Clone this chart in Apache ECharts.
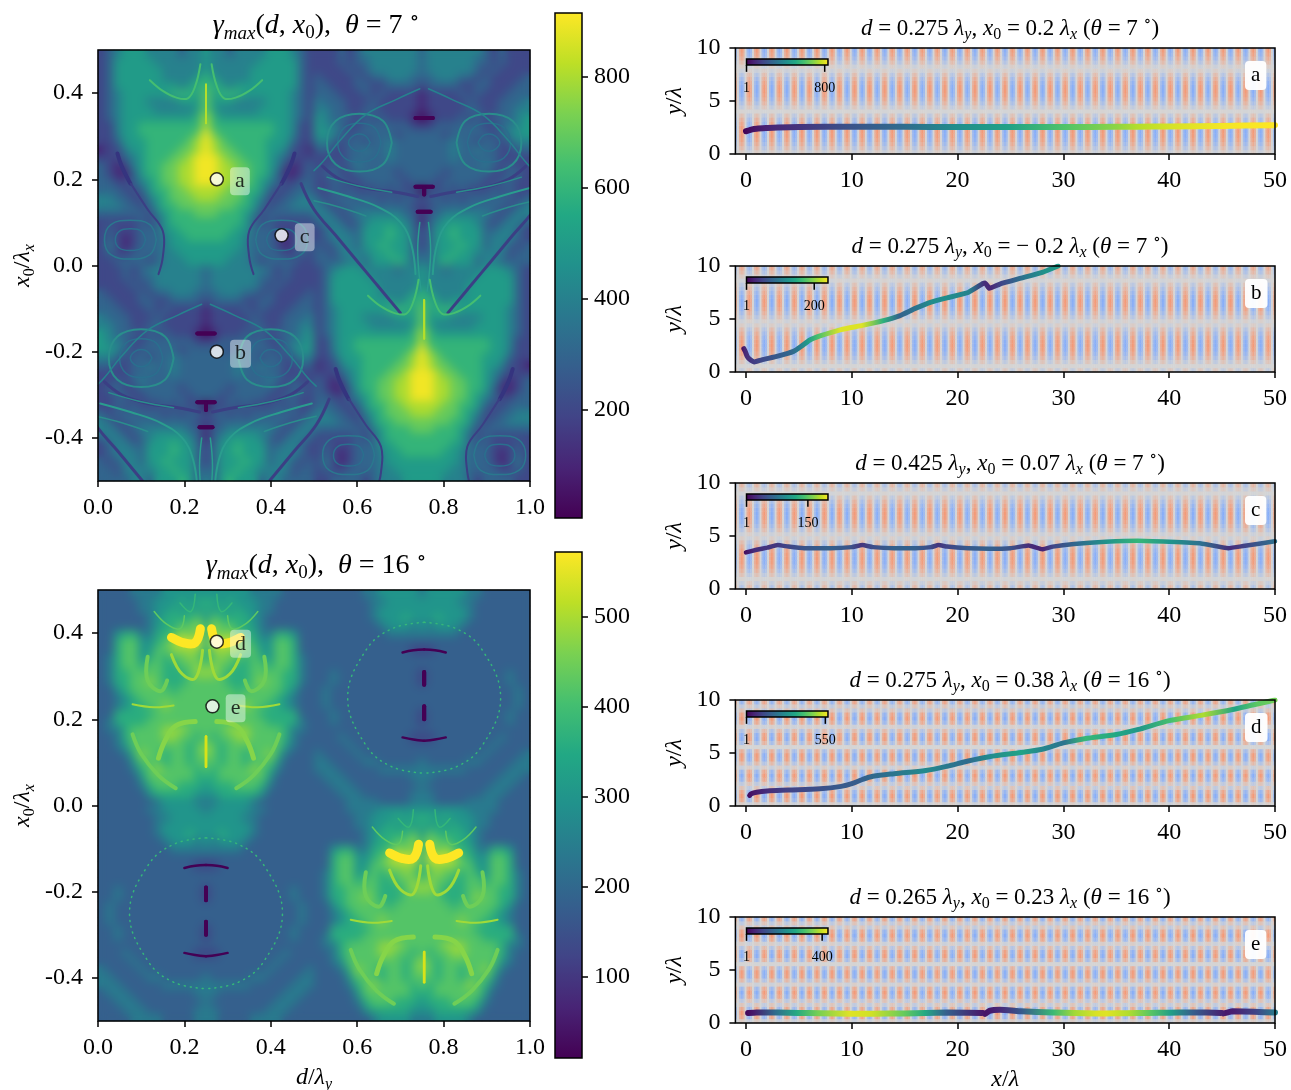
<!DOCTYPE html>
<html><head><meta charset="utf-8"><style>html,body{margin:0;padding:0;background:#fff}#c{width:1291px;height:1090px}</style>
<script src="https://cdn.jsdelivr.net/npm/echarts@6/dist/echarts.min.js"></script></head><body><div id="c"></div>
<script>
const viridis=['#440154','#482475','#414487','#355f8d','#2a788e','#21918c','#22a884','#44bf70','#7ad151','#bddf26','#fde725'];
const fieldColors=['#88aef8','#d5d5d5','#f39a78'];
const map7Lobe=["23455544443445","23555554444445","23555555444445","23555555444456","23555555554566","23455555566657","23455544445557","23455554444457","23455555555568","22455666666668","22455666666679","22355566666789","12245566667789","22234566677899","32124566778899","32113566778899","33223456778899","33322356677888","44332245677788","44433235667777","33333324566677","22222323566666","23222333556666","23212333455666","24212333455555","23223333445555","22333323444555"];
const map7Web=["22232344444443","22232334444443","22223234444443","32222323344433","33222332233332","33322232322221","43332223222221","44332233222221","54333232322210","54432233333322","55432333332333","44323323343333","33223343343333","22223333343333","22323433333333","23322333332333","22332233333233","22323222323220","32333333232332","43233333333322","44323444444331","34432345555431","23443355565532","23444355565532","32344355655532","33244445565533","33334435556534"];
const map16Lobe=["33334444555555","33333445556566","33333445565656","33333345666675","33333345667786","33566446678786","33677556789996","33677557788886","34677567677876","34677677667787","34667777666788","34667787666777","33567777767777","33456777777777","33456677877777","33666667777777","34666677777777","34467777888777","33467777887767","33457777777678","33346877677678","33335777677677","33334678777767","33333577777766","33333467776665","33333356666655","33333334555544"];
const map16Web=["33333344555554","33333334455555","33333334555555","33333334555655","33333333455545","33333333344444","33333333333333","33333333333322","33333333333333","33333333333333","33433333333332","33433333333332","34333333333333","34333333333333","34333333333333","33433333333332","33433333333332","33333333333333","33343333333322","33334333333333","43333433333333","44333344333334","44433333444444","34443333333344","33444333333334","33344433333344","33334444333344"];
const levelStep7=100, levelStep16=60;
const range7=[5,915], range16=[10,572];
const ticks7=[200,400,600,800], ticks16=[100,200,300,400,500];
const dTicks=[0,.2,.4,.6,.8,1], x0Ticks=[-.4,-.2,0,.2,.4];
// thin filaments seen in the maps: [colour, width, points, dash]
const fil7Lobe=[['#45be71',2,[[.12,.43],[.15,.405],[.18,.39],[.208,.388],[.225,.416],[.237,.467]]],['#b5de2b',2,[[.25,.42],[.25,.33]]],['#35347f',4,[[.045,.26],[.055,.23],[.075,.19]]],['#3b3f84',2,[[.076,.19],[.115,.13],[.15,.08],[.15,.02],[.14,-.02]]],['#2a788e',1.5,[[.135,.06],[.12,.095],[.075,.105],[.03,.095],[.015,.06],[.03,.025],[.075,.015],[.12,.025],[.135,.06]]],['#2a6f8e',1.5,[[.11,.06],[.1,.08],[.075,.085],[.05,.08],[.04,.06],[.05,.04],[.075,.035],[.1,.04],[.11,.06]]]];
const fil7Web=[['#2a8e8c',2,[[.68,.285],[.66,.335],[.605,.352],[.55,.335],[.53,.285],[.55,.235],[.605,.218],[.66,.235],[.68,.285]]],['#2a6f8e',1.5,[[.655,.285],[.64,.32],[.605,.33],[.57,.32],[.555,.285],[.57,.25],[.605,.24],[.64,.25],[.655,.285]]],['#2a6f8e',1.5,[[.63,.285],[.62,.3],[.605,.305],[.59,.3],[.58,.285],[.59,.27],[.605,.265],[.62,.27],[.63,.285]]],['#26828e',1.5,[[.745,.41],[.69,.385],[.62,.35],[.56,.29],[.52,.24],[.5,.22]]],['#3b3f84',3,[[.52,.23],[.56,.2],[.62,.18],[.69,.17],[.74,.16]]],['#2a8e8c',1.5,[[.53,.205],[.6,.185],[.68,.17]]],['#2a9d8e',2,[[.51,.18],[.58,.16],[.65,.135],[.70,.1],[.725,.05],[.735,-.02]]],['#2a8e8c',1.5,[[.5,.15],[.56,.135],[.62,.115]]],['#2a9d8e',1.5,[[.745,.1],[.74,.03],[.748,-.06]]],['#3b3f84',3,[[.47,.19],[.5,.13],[.55,.07],[.6,.01],[.65,-.05],[.7,-.11]]],['#440154',4,[[.735,.342],[.775,.342]]],['#440154',4,[[.735,.183],[.775,.183]]],['#440154',4,[[.755,.18],[.755,.165]]],['#440154',4,[[.74,.125],[.77,.125]]]];
const fil16Lobe=[['#fde725',9,[[.17,.39],[.2,.377],[.225,.378],[.237,.41]]],['#5ec962',1.5,[[.13,.45],[.16,.42],[.19,.41],[.2,.44]]],['#35b779',1.5,[[.19,.47],[.215,.45],[.225,.49]]],['#a0da39',3,[[.17,.35],[.195,.305],[.225,.295],[.242,.36]]],['#6ece58',4,[[.115,.345],[.115,.29],[.145,.265],[.16,.29]]],['#a0da39',2,[[.08,.235],[.13,.228],[.175,.232]]],['#86d549',5,[[.225,.195],[.18,.185],[.155,.15],[.14,.11]]],['#6ece58',4,[[.08,.165],[.1,.12],[.14,.07],[.18,.04]]],['#d8e219',2.5,[[.25,.16],[.25,.09]]]];
const fil16Web=[['#440154',2.5,[[.705,.355],[.73,.36],[.755,.362]]],['#440154',2.5,[[.705,.158],[.73,.153],[.755,.15]]],['#440154',4,[[.755,.31],[.755,.28]]],['#440154',4,[[.755,.23],[.755,.2]]],['#35b779',1.5,[[.755,.425],[.68,.41],[.62,.36],[.578,.25],[.62,.14],[.68,.09],[.755,.075]],[1,5]]];
// marked points on the maps
const points7=[[.275,.2,'a'],[.275,-.2,'b'],[.425,.07,'c']];
const points16=[[.275,.38,'d'],[.265,.23,'e']];
// right-hand panels
const xTicks=[0,10,20,30,40,50];
const stripeProfile=[1,.7,0,-.7,-1,-.7,0,.7];
const bandA=[.18,.46,.7,.87,.97,1,.95,.82,.62,.35,.03,-.27,-.55,-.77,-.92,-1,-.98,-.87,-.68,-.43,-.15,.15,.43,.68,.87,.98];
const bandB=[-.27,.02,.31,.58,.79,.94,1,.97,.85,.68,.45,.17,-.12,-.4,-.65,-.85,-.97,-1,-.92,-.76,-.57,-.35,-.08,.22,.5,.74];
const bandC=[-.52,-.24,.05,.34,.6,.8,.94,1,.97,.85,.67,.43,.15,-.15,-.43,-.67,-.85,-.97,-1,-.94,-.8,-.6,-.34,-.05,.24,.52];
const bandD=[.15,.77,1,.8,.33,-.33,-.8,-1,-.75,-.17,.47,.9,.97,.65,0,-.6,-.97,-.9,-.5,.13,.72,1,.85,.35,-.3,-.8];
const bandE=[.2,.8,1,.77,.3,-.36,-.82,-1,-.72,-.14,.5,.92,.96,.62,-.03,-.63,-.98,-.88,-.47,.16,.75,1,.83,.32,-.33,-.82];
const xA=[0,.2,.5,1,2,3,5,10,15,20,25,30,35,37,40,45,50];
const yA=[2.15,2.2,2.3,2.38,2.45,2.5,2.55,2.58,2.57,2.55,2.55,2.55,2.57,2.58,2.6,2.65,2.72];
const gA=[1,10,25,45,75,95,120,210,290,400,470,590,680,730,770,810,820];
const xB=[-.2,-.05,.1,.3,.8,1.5,3,4.5,5.2,6,7,9,11,13,14.5,16,17.5,19,21,22.4,22.6,23,24,26,28,29.5];
const yB=[2.2,1.9,1.5,1.25,.95,1.15,1.5,1.95,2.4,3,3.4,4,4.4,4.85,5.3,6,6.6,7,7.5,8.35,8.4,7.9,8.3,8.85,9.4,10];
const gB=[5,15,25,30,40,50,65,80,100,130,170,225,225,150,75,90,115,115,105,30,28,25,50,90,120,130];
const xC=[0,1,2,3,4,5.5,8,10,11,12,14,16,17.5,18.2,19,21,23,25,26.7,28,29,31,34,37,40,43,45.6,47,50];
const yC=[3.45,3.7,3.9,4.15,4,3.85,3.85,3.95,4.15,3.95,3.85,3.85,3.95,4.15,4,3.85,3.8,3.85,4.1,3.75,4,4.25,4.45,4.55,4.45,4.3,3.85,4.05,4.5];
const gC=[5,25,30,30,40,50,60,50,30,45,60,60,45,30,40,55,60,50,25,20,40,65,100,130,100,70,25,40,75];
const xD=[.35,.5,1,2,4,7,9,10,11,12,14,17,19,21,23,26,28,30,32,35,37,40,43,46,48,50];
const yD=[1,1.15,1.3,1.42,1.5,1.62,1.85,2.1,2.5,2.8,3.05,3.35,3.75,4.25,4.65,5.05,5.35,5.95,6.35,6.75,7.2,8.05,8.55,9.1,9.55,10];
const gD=[5,20,40,70,110,140,160,165,170,190,220,270,230,200,270,330,260,220,380,340,300,400,500,330,420,450];
const xE=[.2,1,3,5,7,10,12,15,17,19,22.4,22.6,23,24,26,29,31,33,34,36,38,40,42,45,45.1,46,48,50];
const yE=[.95,1,1,.95,.92,.88,.88,.9,.95,1,.95,.85,1.15,1.25,1.1,.98,.95,.9,.9,.92,.95,.97,1,.95,.9,1.1,1.05,1];
const gE=[5,30,150,260,340,410,400,330,260,130,30,25,30,50,120,290,370,405,410,380,320,240,130,35,30,40,90,190];
const panelTicks=[800,200,150,550,400], panelMax=[820,237,197,570,430], insetTick=[7.44,6.45,5.85,7.5,7.2];
const letters=['a','b','c','d','e'];
const bands=[bandA,bandB,bandC,bandD,bandE];
const tracks=[[xA,yA,gA],[xB,yB,gB],[xC,yC,gC],[xD,yD,gD],[xE,yE,gE]];
const trackWidth=[6,5,4.5,5,6], trackSmooth=[.3,.12,.12,.3,.12];

const FF="'Liberation Serif','DejaVu Serif',serif";
function hex(c){return [1,3,5].map(i=>parseInt(c.substr(i,2),16));}
function cmap(t){t=Math.max(0,Math.min(1,t))*(viridis.length-1);const i=Math.min(Math.floor(t),viridis.length-2),f=t-i,a=hex(viridis[i]),b=hex(viridis[i+1]);return a.map((v,k)=>Math.round(v+(b[k]-v)*f));}
function css(t){return 'rgb('+cmap(t).join(',')+')';}
const vstops=viridis.map((c,i)=>({offset:i/(viridis.length-1),color:c}));
function full(half){return half+half.slice(0,13).split('').reverse().join('');}
function assemble(lobe,web){const r=[];for(let i=0;i<27;i++)r.push(full(lobe[i])+full(web[i]));for(let i=0;i<27;i++)r.push(full(web[i])+full(lobe[i]));return r;}
function rich(s){const fw='normal';return {
 i:{fontFamily:FF,fontStyle:'italic',fontWeight:fw,fontSize:s,lineHeight:s+6,color:'#000'},
 r:{fontFamily:FF,fontWeight:fw,fontSize:s,lineHeight:s+6,color:'#000'},
 s:{fontFamily:FF,fontStyle:'italic',fontWeight:fw,fontSize:Math.round(s*.68),lineHeight:Math.round(s*.68),verticalAlign:'bottom',color:'#000'},
 n:{fontFamily:FF,fontWeight:fw,fontSize:Math.round(s*.68),lineHeight:Math.round(s*.68),verticalAlign:'bottom',color:'#000'},
 u:{fontFamily:FF,fontWeight:fw,fontSize:Math.round(s*.7),lineHeight:Math.round(s*.7),verticalAlign:'top',color:'#000'}};}

const grid=[],xAxis=[],yAxis=[],series=[],visualMap=[],graphic=[],title=[];
const labelX={fontFamily:FF,fontSize:24,color:'#000',margin:15};
const labelY={fontFamily:FF,fontSize:24,color:'#000',margin:15};
const labelBar={fontFamily:FF,fontSize:24,color:'#000',margin:12};
const tick={show:true,length:6,lineStyle:{color:'#000',width:1.5}};
const noLine={show:false,onZero:false};
function addGrid(l,t,w,h){grid.push({left:l,top:t,width:w,height:h,containLabel:false,outerBoundsMode:'none'});
 graphic.push({type:'rect',silent:true,z:100,shape:{x:l,y:t,width:w,height:h},style:{fill:'none',stroke:'#000',lineWidth:1.5}});return grid.length-1;}
function valX(g,opt){xAxis.push(Object.assign({type:'value',gridIndex:g,z:10,position:'bottom',splitLine:{show:false},axisLine:noLine},opt));return xAxis.length-1;}
function valY(g,opt){yAxis.push(Object.assign({type:'value',gridIndex:g,z:10,splitLine:{show:false},axisLine:noLine},opt));return yAxis.length-1;}
function catX(g,n){xAxis.push({type:'category',gridIndex:g,show:false,data:Array.from({length:n},(_,i)=>i)});return xAxis.length-1;}
function catY(g,n){yAxis.push({type:'category',gridIndex:g,show:false,data:Array.from({length:n},(_,i)=>i)});return yAxis.length-1;}
function colorbar(l,t,h,range,ticks){
 const g=addGrid(l,t,27,h);
 const xi=valX(g,{min:0,max:1,axisTick:{show:false},axisLabel:{show:false}});
 const yi=valY(g,{position:'right',min:range[0],max:range[1],axisTick:Object.assign({},tick,{customValues:ticks}),axisLabel:Object.assign({},labelBar,{customValues:ticks})});
 series.push({type:'custom',coordinateSystem:'cartesian2d',xAxisIndex:xi,yAxisIndex:yi,silent:true,data:[[0,range[0]]],
  renderItem(p,api){const a=api.coord([0,range[1]]),b=api.coord([1,range[0]]);
   return {type:'rect',shape:{x:a[0],y:a[1],width:b[0]-a[0],height:b[1]-a[1]},style:{fill:{type:'linear',x:0,y:1,x2:0,y2:0,colorStops:vstops}}};}});
}
function mirrorFil(set,c){const out=[];set.forEach(f=>{out.push(f);out.push([f[0],f[1],f[2].map(p=>[2*c-p[0],p[1]]),f[3]]);});return out;}
function heatMap(top,rows,step,range,lobeFil,webFil,pts,axisNames){
 const g=addGrid(98,top,432,431);
 const xi=valX(g,Object.assign({min:0,max:1,axisTick:Object.assign({},tick,{customValues:dTicks}),axisLabel:Object.assign({},labelX,{customValues:dTicks,formatter:v=>v.toFixed(1)})},axisNames.x||{}));
 const yi=valY(g,Object.assign({min:-.5,max:.5,axisTick:Object.assign({},tick,{customValues:x0Ticks}),axisLabel:Object.assign({},labelY,{customValues:x0Ticks,formatter:v=>v.toFixed(1)})},axisNames.y));
 const cx=catX(g,rows[0].length),cy=catY(g,rows.length);
 const cells=[];
 rows.forEach((r,ri)=>{for(let c=0;c<r.length;c++)cells.push([c,rows.length-1-ri,Math.max(range[0],(+r[c])*step)]);});
 visualMap.push({show:false,type:'continuous',seriesIndex:series.length,min:range[0],max:range[1],dimension:2,inRange:{color:viridis}});
 series.push({type:'heatmap',xAxisIndex:cx,yAxisIndex:cy,data:cells,progressive:0,silent:true,z:1});
 // same cells, as a softly resampled raster like the imshow in the reference
 const cv=document.createElement('canvas');cv.width=rows[0].length;cv.height=rows.length;
 const ctx=cv.getContext('2d');const im=ctx.createImageData(cv.width,cv.height);
 cells.forEach(cl=>{const k=((rows.length-1-cl[1])*cv.width+cl[0])*4,col=cmap((cl[2]-range[0])/(range[1]-range[0]));im.data[k]=col[0];im.data[k+1]=col[1];im.data[k+2]=col[2];im.data[k+3]=255;});
 ctx.putImageData(im,0,0);
 const big=document.createElement('canvas');big.width=432;big.height=432;
 const bc=big.getContext('2d');bc.imageSmoothingEnabled=true;bc.drawImage(cv,0,0,432,432);bc.filter='blur(4px)';bc.drawImage(cv,0,0,432,432);
 series.push({type:'custom',coordinateSystem:'cartesian2d',xAxisIndex:xi,yAxisIndex:yi,silent:true,z:2,clip:true,data:[[0,0]],
  renderItem(p,api){const a=api.coord([0,.5]),b=api.coord([1,-.5]);return {type:'image',style:{image:big,x:a[0],y:a[1],width:b[0]-a[0],height:b[1]-a[1]}};}});
 // filaments
 const lobeAll=mirrorFil(lobeFil,.25),webAll=mirrorFil(webFil,.755);
 const shiftL=lobeAll.map(f=>[f[0],f[1],f[2].map(p=>[p[0]+.505,p[1]-.5]),f[3]]);
 const shiftW=webAll.map(f=>[f[0],f[1],f[2].map(p=>[p[0]-.505,p[1]-.5]),f[3]]);
 const fils=lobeAll.concat(webAll,shiftL,shiftW);
 series.push({type:'custom',coordinateSystem:'cartesian2d',xAxisIndex:xi,yAxisIndex:yi,silent:true,z:3,clip:true,data:fils.map((f,i)=>[f[2][0][0],f[2][0][1],i]),
  renderItem(p,api){const f=fils[p.dataIndex];return {type:'polyline',shape:{points:f[2].map(q=>api.coord(q)),smooth:.4},style:{stroke:f[0],lineWidth:f[1],fill:null,lineCap:'round',lineDash:f[3]||null}};}});
 series.push({type:'scatter',xAxisIndex:xi,yAxisIndex:yi,z:5,symbolSize:13,silent:true,itemStyle:{color:'#fff',borderColor:'#000',borderWidth:1.5},data:pts.map(q=>[q[0],q[1],q[2]]),
  label:{show:true,position:'right',distance:6,offset:[0,2],formatter:q=>q.data[2],fontFamily:FF,fontSize:22,color:'#000',backgroundColor:'rgba(255,255,255,.55)',padding:[3,5],borderRadius:4,lineHeight:22}});
}
const sub=rich(24);
const yName7={name:'{i|x}{n|0}{r|/}{i|λ}{s|x}',nameLocation:'middle',nameGap:60,nameTextStyle:{rich:sub}};
heatMap(50,assemble(map7Lobe,map7Web),levelStep7,range7,fil7Lobe,fil7Web,points7,{y:yName7});
colorbar(555,13,505,range7,ticks7);
heatMap(590,assemble(map16Lobe,map16Web),levelStep16,range16,fil16Lobe,fil16Web,points16,{y:yName7,x:{name:'{i|d}{r|/}{i|λ}{s|y}',nameLocation:'middle',nameGap:42,nameTextStyle:{rich:sub}}});
colorbar(555,552,506,range16,ticks16);

const panelTop=[48,266,483,700,917];
const lbl=rich(28),lbr=rich(23);
title.push({text:'{i|γ}{s|max}{r|(}{i|d}{r|, }{i|x}{n|0}{r|),  }{i|θ}{r| = 7 }{u|∘}',left:311,top:4,textAlign:'center',textStyle:{rich:lbl}});
title.push({text:'{i|γ}{s|max}{r|(}{i|d}{r|, }{i|x}{n|0}{r|),  }{i|θ}{r| = 16 }{u|∘}',left:311,top:544,textAlign:'center',textStyle:{rich:lbl}});
const panelTitles=[
 '{i|d}{r| = 0.275 }{i|λ}{s|y}{r|, }{i|x}{n|0}{r| = 0.2 }{i|λ}{s|x}{r| (}{i|θ}{r| = 7 }{u|∘}{r|)}',
 '{i|d}{r| = 0.275 }{i|λ}{s|y}{r|, }{i|x}{n|0}{r| = − 0.2 }{i|λ}{s|x}{r| (}{i|θ}{r| = 7 }{u|∘}{r|)}',
 '{i|d}{r| = 0.425 }{i|λ}{s|y}{r|, }{i|x}{n|0}{r| = 0.07 }{i|λ}{s|x}{r| (}{i|θ}{r| = 7 }{u|∘}{r|)}',
 '{i|d}{r| = 0.275 }{i|λ}{s|y}{r|, }{i|x}{n|0}{r| = 0.38 }{i|λ}{s|x}{r| (}{i|θ}{r| = 16 }{u|∘}{r|)}',
 '{i|d}{r| = 0.265 }{i|λ}{s|y}{r|, }{i|x}{n|0}{r| = 0.23 }{i|λ}{s|x}{r| (}{i|θ}{r| = 16 }{u|∘}{r|)}'];
panelTop.forEach((t,i)=>{
 const g=addGrid(735.4,t,539.6,106);
 const xOpt={min:-1,max:50,axisTick:Object.assign({},tick,{customValues:xTicks}),axisLabel:Object.assign({},labelX,{customValues:xTicks})};
 if(i===4)Object.assign(xOpt,{name:'{i|x}{r|/}{i|λ}',nameLocation:'middle',nameGap:42,nameTextStyle:{rich:sub}});
 const xi=valX(g,xOpt);
 const yi=valY(g,{min:0,max:10,interval:5,axisTick:tick,axisLabel:labelY,name:'{i|y}{r|/}{i|λ}',nameLocation:'middle',nameGap:46,nameTextStyle:{rich:sub}});
 const nc=287,nr=bands[i].length,cx=catX(g,nc),cy=catY(g,nr),cells=[];
 for(let r=0;r<nr;r++)for(let c=0;c<nc;c++)cells.push([c,r,stripeProfile[(c+5)%8]*bands[i][r]]);
 visualMap.push({show:false,type:'continuous',seriesIndex:series.length,min:-1,max:1,dimension:2,inRange:{color:fieldColors}});
 series.push({type:'heatmap',xAxisIndex:cx,yAxisIndex:cy,data:cells,progressive:0,silent:true,z:1});
 const tr=tracks[i],x0=Math.min(...tr[0]),x1=Math.max(...tr[0]),M=panelMax[i];
 const stops=tr[0].map((x,k)=>({x,color:css(tr[2][k]/M)})).sort((a,b)=>a.x-b.x).map(o=>({offset:(o.x-x0)/(x1-x0),color:o.color}));
 series.push({type:'line',xAxisIndex:xi,yAxisIndex:yi,z:4,showSymbol:false,silent:true,smooth:trackSmooth[i],data:tr[0].map((x,k)=>[x,tr[1][k]]),
  lineStyle:{width:trackWidth[i],cap:'round',join:'round',color:{type:'linear',x:0,y:0,x2:1,y2:0,colorStops:stops}}});
 const tv=panelTicks[i],tx=insetTick[i];
 series.push({type:'custom',coordinateSystem:'cartesian2d',xAxisIndex:xi,yAxisIndex:yi,silent:true,z:5,data:[[0,8.96]],
  renderItem(p,api){const a=api.coord([.05,8.96]),b=api.coord([7.75,8.4]),t0=api.coord([.05,7.75]),t1=api.coord([tx,7.75]),l0=api.coord([.05,6.2]),l1=api.coord([tx,6.2]);
   const w=b[0]-a[0],h=b[1]-a[1];
   return {type:'group',children:[
    {type:'rect',shape:{x:a[0],y:a[1],width:w,height:h},style:{fill:{type:'linear',x:0,y:0,x2:1,y2:0,colorStops:vstops},stroke:'#000',lineWidth:1.5}},
    {type:'line',shape:{x1:a[0],y1:b[1],x2:t0[0],y2:t0[1]},style:{stroke:'#000',lineWidth:1.5}},
    {type:'line',shape:{x1:t1[0],y1:b[1],x2:t1[0],y2:t1[1]},style:{stroke:'#000',lineWidth:1.5}},
    {type:'text',style:{text:'1',x:l0[0],y:l0[1],align:'center',verticalAlign:'middle',fontFamily:FF,fontSize:14,fill:'#000'}},
    {type:'text',style:{text:String(tv),x:l1[0],y:l1[1],align:'center',verticalAlign:'middle',fontFamily:FF,fontSize:14,fill:'#000'}}]};}});
 graphic.push({type:'text',z:101,silent:true,left:1245,top:t+13,style:{text:letters[i],fontFamily:FF,fontSize:21,fill:'#000',backgroundColor:'rgba(255,255,255,.95)',padding:[4,6],borderRadius:4,lineHeight:21}});
 title.push({text:panelTitles[i],left:1005,top:t-39,textAlign:'center',textStyle:{rich:lbr}});
});
const chart=echarts.init(document.getElementById('c'),null,{renderer:'canvas'});
chart.setOption({animation:false,backgroundColor:'#fff',title,grid,xAxis,yAxis,visualMap,series,graphic:{elements:graphic}});
</script></body></html>
